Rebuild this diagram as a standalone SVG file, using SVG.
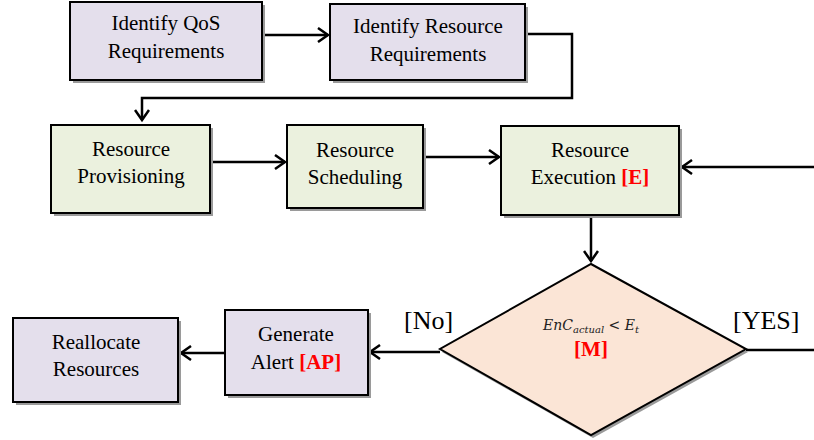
<svg xmlns="http://www.w3.org/2000/svg" width="814" height="440" viewBox="0 0 814 440">
<defs>
<marker id="ah" markerWidth="16" markerHeight="16" refX="13" refY="8" orient="auto" markerUnits="userSpaceOnUse">
<path d="M3,1 L13,8 L3,15" fill="none" stroke="#000" stroke-width="2.5"/>
</marker>
</defs>
<style>
.shadow{fill:#9a9a9a}
.p{fill:#e4dfec;stroke:#000;stroke-width:2}
.g{fill:#ebf1de;stroke:#000;stroke-width:2}
.d{fill:#fbe5d6;stroke:#000;stroke-width:2}
.t{font-family:"Liberation Serif","Times New Roman",serif;font-size:21px;fill:#000;text-anchor:middle}
.r{fill:#ff0000;font-weight:bold}
.c{fill:none;stroke:#000;stroke-width:2.5}
.m{font-family:"DejaVu Serif","Liberation Serif",serif;font-style:italic;font-size:14px;fill:#222;text-anchor:middle}
.lbl{font-family:"Liberation Serif","Times New Roman",serif;font-size:26px;fill:#000}
</style>
<g id="connectors">
<line class="c" x1="262" y1="35" x2="328" y2="35" marker-end="url(#ah)"/>
<polyline class="c" points="525,34 572,34 572,98 142,98 142,120" marker-end="url(#ah)"/>
<line class="c" x1="210" y1="162" x2="285" y2="162" marker-end="url(#ah)"/>
<line class="c" x1="423" y1="157" x2="499" y2="157" marker-end="url(#ah)"/>
<line class="c" x1="814" y1="167" x2="682" y2="167" marker-end="url(#ah)"/>
<line class="c" x1="591" y1="215" x2="591" y2="261" marker-end="url(#ah)"/>
<line class="c" x1="440" y1="352" x2="370" y2="352" marker-end="url(#ah)"/>
<line class="c" x1="225" y1="353" x2="181" y2="353" marker-end="url(#ah)"/>
<line class="c" x1="746" y1="350" x2="814" y2="350"/>
<text class="lbl" x="404" y="329">[No]</text>
<text class="lbl" x="733" y="329">[YES]</text>
</g>
<g id="identify-qos">
<rect class="shadow" x="73" y="5" width="192" height="78"/>
<rect class="p" x="70" y="2" width="192" height="78"/>
<text class="t" x="166" y="30">Identify QoS</text>
<text class="t" x="166" y="58">Requirements</text>
</g>
<g id="identify-resource">
<rect class="shadow" x="333" y="7" width="195" height="76"/>
<rect class="p" x="330" y="4" width="195" height="76"/>
<text class="t" x="428" y="33">Identify Resource</text>
<text class="t" x="428" y="61">Requirements</text>
</g>
<g id="provisioning">
<rect class="shadow" x="54" y="128" width="159" height="88"/>
<rect class="g" x="51" y="125" width="159" height="88"/>
<text class="t" x="131" y="156">Resource</text>
<text class="t" x="131" y="183">Provisioning</text>
</g>
<g id="scheduling">
<rect class="shadow" x="290" y="128" width="136" height="83"/>
<rect class="g" x="287" y="125" width="136" height="83"/>
<text class="t" x="355" y="157">Resource</text>
<text class="t" x="355" y="184">Scheduling</text>
</g>
<g id="execution">
<rect class="shadow" x="504" y="129" width="178" height="89"/>
<rect class="g" x="501" y="126" width="178" height="89"/>
<text class="t" x="590" y="157">Resource</text>
<text class="t" x="590" y="184">Execution <tspan class="r">[E]</tspan></text>
</g>
<g id="decision">
<polygon class="shadow" points="593,267 748,352 593,438 442,352"/>
<polygon class="d" points="591,264 746,349 591,435 440,349"/>
<text class="m" x="591" y="330">EnC<tspan font-size="10" dy="3">actual</tspan><tspan dy="-3"> &lt;  E</tspan><tspan font-size="10" dy="3">t</tspan></text>
<text class="t r" x="591" y="356">[M]</text>
</g>
<g id="generate-alert">
<rect class="shadow" x="228" y="313" width="143" height="85"/>
<rect class="p" x="225" y="310" width="143" height="85"/>
<text class="t" x="296" y="341">Generate</text>
<text class="t" x="296" y="369">Alert <tspan class="r">[AP]</tspan></text>
</g>
<g id="reallocate">
<rect class="shadow" x="16" y="321" width="165" height="84"/>
<rect class="p" x="13" y="318" width="165" height="84"/>
<text class="t" x="96" y="349">Reallocate</text>
<text class="t" x="96" y="376">Resources</text>
</g>
</svg>
